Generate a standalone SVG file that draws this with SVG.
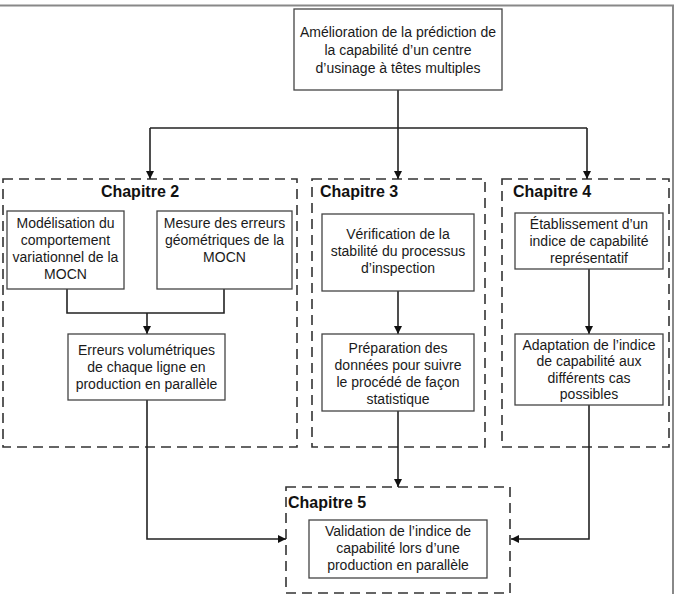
<svg xmlns="http://www.w3.org/2000/svg" width="675" height="594" viewBox="0 0 675 594">
  <defs>
    <marker id="arrow" viewBox="0 0 10 10" refX="10" refY="5" markerWidth="8" markerHeight="8" markerUnits="userSpaceOnUse" orient="auto">
      <path d="M0,0 L10,5 L0,10 Z" fill="#111"/>
    </marker>
    <style>
      .frame { fill: none; stroke: #888; stroke-width: 2; }
      .box { fill: #fff; stroke: #444; stroke-width: 1.3; }
      .group { fill: none; stroke: #333; stroke-width: 1.6; stroke-dasharray: 10 6; }
      .link { fill: none; stroke: #222; stroke-width: 1.6; }
      .txt { font-family: "Liberation Sans", Arial, sans-serif; font-size: 14px; fill: #1a1a1a; text-anchor: middle; }
      .title { font-family: "Liberation Sans", Arial, sans-serif; font-size: 16px; font-weight: bold; fill: #111; }
    </style>
  </defs>
  <rect width="675" height="594" fill="#fff"/>

  <!-- page border (top and right edges) -->
  <path class="frame" d="M0,5.5 H673 V594"/>

  <!-- chapter groups -->
  <g id="chapitre2">
    <rect class="group" x="3" y="179" width="294" height="268"/>
    <text class="title" x="140" y="197" text-anchor="middle">Chapitre 2</text>
  </g>
  <g id="chapitre3">
    <rect class="group" x="312" y="179" width="173" height="268"/>
    <text class="title" x="320" y="197">Chapitre 3</text>
  </g>
  <g id="chapitre4">
    <rect class="group" x="502" y="179" width="167" height="268"/>
    <text class="title" x="513" y="197">Chapitre 4</text>
  </g>
  <g id="chapitre5">
    <rect class="group" x="286" y="487" width="224" height="106"/>
    <text class="title" x="288" y="508">Chapitre 5</text>
  </g>

  <!-- connectors -->
  <g id="connectors">
    <path class="link" d="M398,90 V128"/>
    <path class="link" d="M150,128 H587"/>
    <path class="link" d="M150,128 V179" marker-end="url(#arrow)"/>
    <path class="link" d="M398,128 V179" marker-end="url(#arrow)"/>
    <path class="link" d="M587,128 V179" marker-end="url(#arrow)"/>

    <path class="link" d="M67,289 V313 H224 V289"/>
    <path class="link" d="M147,313 V334" marker-end="url(#arrow)"/>
    <path class="link" d="M147,400 V539 H286" marker-end="url(#arrow)"/>

    <path class="link" d="M398,291 V334" marker-end="url(#arrow)"/>
    <path class="link" d="M398,411 V487" marker-end="url(#arrow)"/>

    <path class="link" d="M589,269 V334" marker-end="url(#arrow)"/>
    <path class="link" d="M589,405 V539 H511" marker-end="url(#arrow)"/>
  </g>

  <!-- nodes -->
  <g id="objectif">
    <rect class="box" x="294" y="9" width="208" height="81"/>
    <text class="txt" x="398" y="37">Amélioration de la prédiction de</text>
    <text class="txt" x="398" y="55">la capabilité d’un centre</text>
    <text class="txt" x="398" y="73">d’usinage à têtes multiples</text>
  </g>

  <g id="modelisation">
    <rect class="box" x="7" y="211" width="117" height="78"/>
    <text class="txt" x="65.5" y="228">Modélisation du</text>
    <text class="txt" x="65.5" y="245">comportement</text>
    <text class="txt" x="65.5" y="262">variationnel de la</text>
    <text class="txt" x="65.5" y="279">MOCN</text>
  </g>

  <g id="mesure">
    <rect class="box" x="157" y="211" width="135" height="78"/>
    <text class="txt" x="224.5" y="228">Mesure des erreurs</text>
    <text class="txt" x="224.5" y="245">géométriques de la</text>
    <text class="txt" x="224.5" y="262">MOCN</text>
  </g>

  <g id="erreurs">
    <rect class="box" x="68" y="334" width="157" height="66"/>
    <text class="txt" x="146.5" y="355">Erreurs volumétriques</text>
    <text class="txt" x="146.5" y="372">de chaque ligne en</text>
    <text class="txt" x="146.5" y="389">production en parallèle</text>
  </g>

  <g id="verification">
    <rect class="box" x="322" y="214" width="152" height="77"/>
    <text class="txt" x="398" y="239">Vérification de la</text>
    <text class="txt" x="398" y="256">stabilité du processus</text>
    <text class="txt" x="398" y="273">d’inspection</text>
  </g>

  <g id="preparation">
    <rect class="box" x="322" y="334" width="152" height="77"/>
    <text class="txt" x="398" y="353">Préparation des</text>
    <text class="txt" x="398" y="370">données pour suivre</text>
    <text class="txt" x="398" y="387">le procédé de façon</text>
    <text class="txt" x="398" y="404">statistique</text>
  </g>

  <g id="etablissement">
    <rect class="box" x="515" y="213" width="148" height="56"/>
    <text class="txt" x="589" y="229">Établissement d’un</text>
    <text class="txt" x="589" y="246">indice de capabilité</text>
    <text class="txt" x="589" y="263">représentatif</text>
  </g>

  <g id="adaptation">
    <rect class="box" x="515" y="334" width="148" height="71"/>
    <text class="txt" x="589" y="350">Adaptation de l’indice</text>
    <text class="txt" x="589" y="366">de capabilité aux</text>
    <text class="txt" x="589" y="383">différents cas</text>
    <text class="txt" x="589" y="399">possibles</text>
  </g>

  <g id="validation">
    <rect class="box" x="309" y="520" width="178" height="58"/>
    <text class="txt" x="398" y="536">Validation de l’indice de</text>
    <text class="txt" x="398" y="553">capabilité lors d’une</text>
    <text class="txt" x="398" y="570">production en parallèle</text>
  </g>
</svg>
